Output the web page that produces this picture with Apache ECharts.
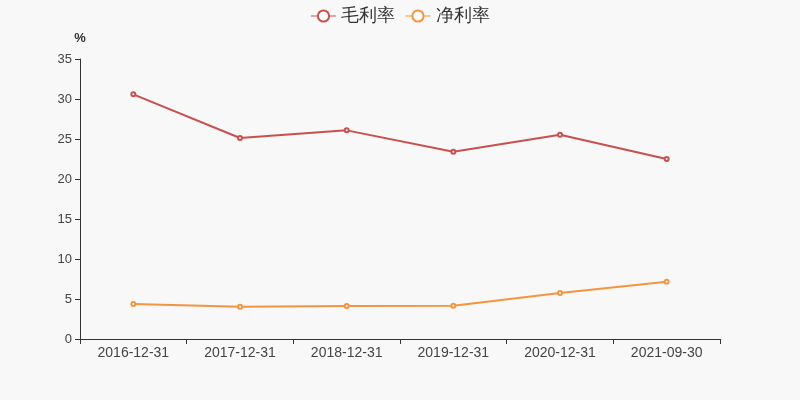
<!DOCTYPE html>
<html><head><meta charset="utf-8">
<script src="https://cdn.jsdelivr.net/npm/echarts@6/dist/echarts.min.js"></script>
<style>html,body{margin:0;padding:0;background:#f8f8f8}#c{width:800px;height:400px}</style>
</head><body><div id="c"></div>
<script>
var categories = ['2016-12-31','2017-12-31','2018-12-31','2019-12-31','2020-12-31','2021-09-30'];
var grossMargin = [30.58, 25.13, 26.08, 23.41, 25.54, 22.5];
var netMargin = [4.37, 4.04, 4.12, 4.16, 5.75, 7.16];
var seriesNames = ['毛利率','净利率'];
var chart = echarts.init(document.getElementById('c'));
chart.setOption({
  backgroundColor: '#f8f8f8',
  color: ['#c8504e', '#f5943f'],
  legend: {
    top: 2, left: 'center', itemWidth: 25, itemHeight: 14, itemGap: 10,
    textStyle: {fontSize: 18, color: '#333'},
    itemStyle: {borderWidth: 1},
    lineStyle: {width: 1},
    data: seriesNames
  },
  grid: {left: 80, right: 80, top: 59, bottom: 61},
  xAxis: {
    type: 'category', data: categories, boundaryGap: true,
    axisLine: {lineStyle: {color: '#333'}},
    axisTick: {show: true, alignWithLabel: false},
    axisLabel: {color: '#444', fontSize: 14, margin: 7}
  },
  yAxis: {
    type: 'value', min: 0, max: 35, interval: 5, name: '%',
    nameTextStyle: {color: '#333', fontSize: 13, fontWeight: 'bold', padding: [0, 0, 2, 0]},
    nameGap: 12,
    axisLine: {show: true, lineStyle: {color: '#333'}},
    axisTick: {show: true},
    splitLine: {show: false},
    axisLabel: {color: '#444', fontSize: 13}
  },
  series: [
    {name: seriesNames[0], type: 'line', data: grossMargin, symbol: 'emptyCircle', symbolSize: 4, itemStyle: {borderWidth: 1}, lineStyle: {width: 2}},
    {name: seriesNames[1], type: 'line', data: netMargin, symbol: 'emptyCircle', symbolSize: 4, itemStyle: {borderWidth: 1}, lineStyle: {width: 2}}
  ]
});
</script></body></html>
